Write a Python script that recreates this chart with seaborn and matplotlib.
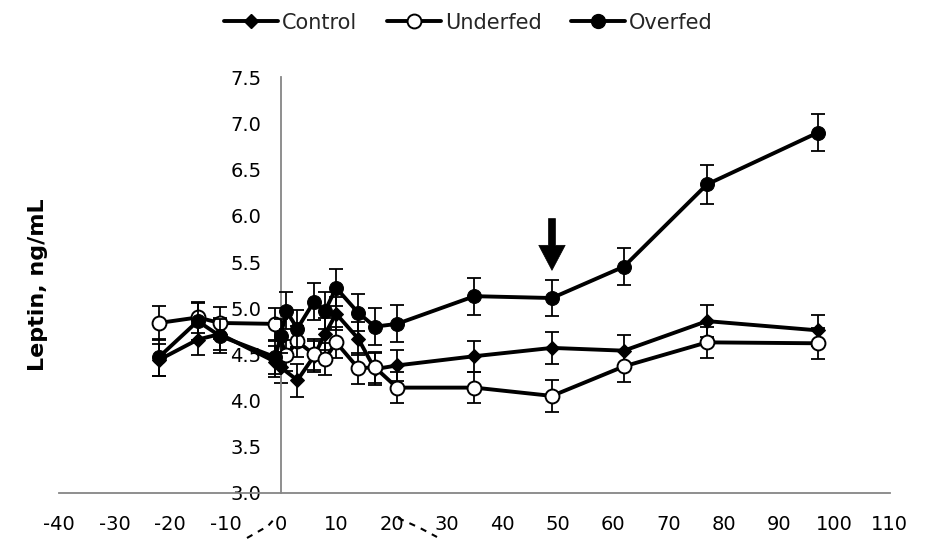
import matplotlib
matplotlib.use("Agg")
import matplotlib.pyplot as plt
import seaborn as sns
import pandas as pd
from matplotlib.lines import Line2D

# ---- data ----
control_day = [-22, -15, -11, -1, 0, 3, 6, 8, 10, 14, 17, 21, 35, 49, 62, 77, 97]
control_val = [4.44, 4.66, 4.72, 4.42, 4.36, 4.22, 4.48, 4.72, 4.94, 4.67, 4.34, 4.38, 4.48, 4.57, 4.54, 4.86, 4.76]
control_se = [0.17, 0.17, 0.17, 0.17, 0.17, 0.18, 0.17, 0.17, 0.18, 0.18, 0.17, 0.17, 0.17, 0.17, 0.17, 0.17, 0.17]

underfed_day = [-22, -15, -11, -1, 1, 3, 6, 8, 10, 14, 17, 21, 35, 49, 62, 77, 97]
underfed_val = [4.84, 4.90, 4.84, 4.83, 4.49, 4.64, 4.50, 4.45, 4.63, 4.35, 4.36, 4.14, 4.14, 4.05, 4.37, 4.63, 4.62]
underfed_se = [0.18, 0.17, 0.17, 0.17, 0.17, 0.17, 0.17, 0.17, 0.17, 0.17, 0.17, 0.17, 0.17, 0.17, 0.17, 0.17, 0.17]

overfed_day = [-22, -15, -11, -1, 0, 1, 3, 6, 8, 10, 14, 17, 21, 35, 49, 62, 77, 97]
overfed_val = [4.47, 4.86, 4.70, 4.47, 4.70, 4.97, 4.78, 5.07, 4.97, 5.22, 4.95, 4.80, 4.83, 5.13, 5.11, 5.45, 6.34, 6.90]
overfed_se = [0.20, 0.20, 0.18, 0.18, 0.18, 0.20, 0.20, 0.20, 0.20, 0.20, 0.20, 0.20, 0.20, 0.20, 0.20, 0.20, 0.21, 0.20]

arrow_day = 49
arrow_tip = 5.41
arrow_tail = 5.97

x_ticks = list(range(-40, 111, 10))
y_ticks = [3.0, 3.5, 4.0, 4.5, 5.0, 5.5, 6.0, 6.5, 7.0, 7.5]
series_names = ["Control", "Underfed", "Overfed"]
y_label = "Leptin, ng/mL"

# ---- plot ----
sns.set_theme(style="white")
plt.rcParams["font.family"] = ["DejaVu Sans"]

fig = plt.figure(figsize=(9.33, 5.4), dpi=100)
ax = fig.add_axes([0.0636, 0.0872, 0.8899, 0.7697])

lw = 2.8
styles = [
    dict(marker="D", markersize=7.5, markerfacecolor="black", markeredgecolor="black"),
    dict(marker="o", markersize=10, markerfacecolor="white", markeredgecolor="black", markeredgewidth=1.4),
    dict(marker="o", markersize=10, markerfacecolor="black", markeredgecolor="black"),
]
data = [(control_day, control_val, control_se),
        (underfed_day, underfed_val, underfed_se),
        (overfed_day, overfed_val, overfed_se)]

for i, ((d, v, s), name, st) in enumerate(zip(data, series_names, styles)):
    ax.errorbar(d, v, yerr=s, fmt="none", ecolor="black", elinewidth=1.3,
                capsize=5, capthick=1.3, zorder=2 + i * 2)
    df = pd.DataFrame({"day": d, "val": v})
    sns.lineplot(data=df, x="day", y="val", ax=ax, color="black", lw=lw,
                 legend=False, zorder=3 + i * 2, **st)

ax.set_xlim(-40, 110)
ax.set_ylim(3.0, 7.5)
ax.set_xticks(x_ticks)
ax.set_yticks(y_ticks)
ax.set_yticklabels([f"{t:.1f}" for t in y_ticks])
ax.set_xticklabels([str(t) for t in x_ticks])

spine_col = "#868686"
ax.spines["left"].set_position(("data", 0))
for k in ["top", "right"]:
    ax.spines[k].set_visible(False)
for k in ["left", "bottom"]:
    ax.spines[k].set_color(spine_col)
    ax.spines[k].set_linewidth(1.3)
ax.tick_params(axis="both", direction="out", length=6, width=1.2, color=spine_col,
               labelsize=14, labelcolor="black", pad=8)
ax.tick_params(axis="x", pad=10)

ax.set_xlabel("")
ax.set_ylabel(y_label, fontsize=16, fontweight="bold", color="black")
ax.yaxis.set_label_coords(-0.014, 0.5)

# arrow
ax.annotate("", xy=(arrow_day, arrow_tip), xytext=(arrow_day, arrow_tail),
            arrowprops=dict(width=5, headwidth=19, headlength=18,
                            facecolor="black", edgecolor="black", lw=0.5,
                            shrink=0.0))

# legend
handles = [Line2D([], [], color="black", lw=lw, **st) for st in styles]
fig.legend(handles, series_names, loc="center", bbox_to_anchor=(0.502, 0.958),
           ncol=3, frameon=False, fontsize=15, handlelength=2.6,
           handletextpad=0.2, columnspacing=1.4)

# small dashed artifacts below the axis
fig.add_artist(Line2D([247 / 933, 268 / 933, 276 / 933], [1 - 538 / 540, 1 - 526 / 540, 1 - 517 / 540],
                      transform=fig.transFigure, color="black", lw=1.5, ls=(0, (3, 3))))
fig.add_artist(Line2D([398 / 933, 420 / 933, 437 / 933], [1 - 518 / 540, 1 - 528 / 540, 1 - 537 / 540],
                      transform=fig.transFigure, color="black", lw=1.5, ls=(0, (3, 3))))

fig.savefig("out.png", dpi=100)
